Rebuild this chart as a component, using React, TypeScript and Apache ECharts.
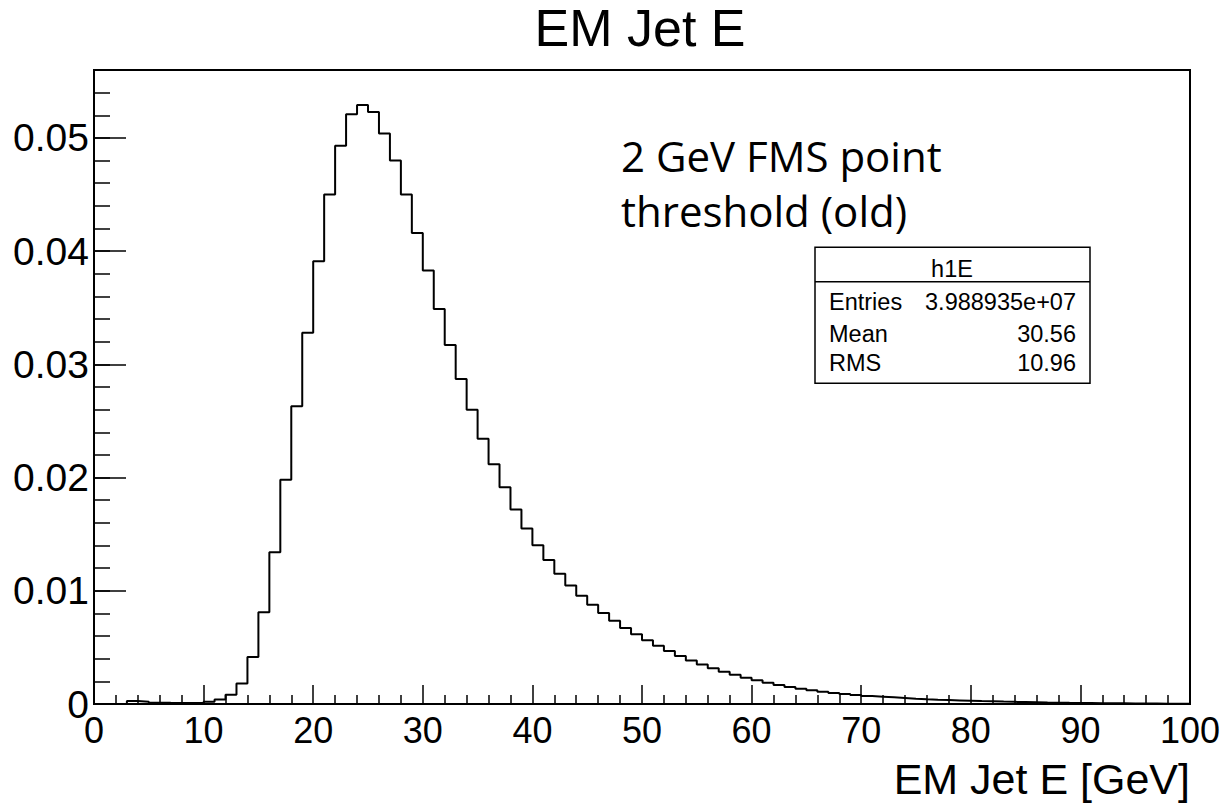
import React, { useEffect, useRef } from "react";
import * as echarts from "echarts";

// Histogram h1E: 100 bins of width 1 GeV from 0 to 100 (normalised contents)
const X_MIN = 0;
const X_MAX = 100;
const BIN_WIDTH = 1;
const Y_MAX = 0.056;

const binContents = [
  0, 0, 0.00002, 0.00026, 0.0002, 0.00012, 0.0001, 0.00009, 0.00009, 0.00012,
  0.0002, 0.0004, 0.00082, 0.0018, 0.00415, 0.0081, 0.0134, 0.0198, 0.0263, 0.0328,
  0.0391, 0.045, 0.0493, 0.0521, 0.0529, 0.0523, 0.0504, 0.048, 0.045, 0.0416,
  0.0383, 0.0349, 0.0317, 0.0287, 0.026, 0.02344, 0.02118, 0.01915, 0.01718, 0.0155,
  0.01403, 0.01271, 0.0115, 0.01047, 0.00956, 0.00876, 0.00803, 0.00735, 0.00671, 0.00615,
  0.00562, 0.00515, 0.00468, 0.00424, 0.00385, 0.0035, 0.00315, 0.00285, 0.00259, 0.00232,
  0.00209, 0.00188, 0.00168, 0.0015, 0.00135, 0.00121, 0.00109, 0.00097, 0.00088, 0.0008,
  0.00071, 0.00065, 0.00059, 0.00053, 0.00047, 0.00042, 0.00038, 0.00035, 0.00032, 0.00029,
  0.00026, 0.00024, 0.00021, 0.00019, 0.00017, 0.00015, 0.00013, 0.00012, 0.0001, 0.00009,
  0.00008, 0.00007, 0.00006, 0.00006, 0.00005, 0.00004, 0.00004, 0.00003, 0.00003, 0.00003,
];

const TITLE = "EM Jet E";
const X_TITLE = "EM Jet E [GeV]";
const NOTE_LINES = ["2 GeV FMS point", "threshold (old)"];
const STATS_NAME = "h1E";
const STATS_LABELS = ["Entries", "Mean", "RMS"];
const STATS_VALUES = ["3.988935e+07", "30.56", "10.96"];

const HELV = '"Liberation Sans", Arial, Helvetica, sans-serif';

export default function App() {
  const ref = useRef<HTMLDivElement>(null);

  useEffect(() => {
    if (!ref.current) return;
    const chart = echarts.init(ref.current, null, { renderer: "svg" });

    const pts: number[][] = binContents.map((v, i) => [X_MIN + i * BIN_WIDTH, v]);
    pts.push([X_MIN + binContents.length * BIN_WIDTH, binContents[binContents.length - 1]]);

    const yFmt = (v: number) => {
      const k = Math.round(v / 0.01);
      if (Math.abs(v - k * 0.01) > 1e-9) return "";
      return k === 0 ? "0" : (k * 0.01).toFixed(2);
    };

    const statsRowY = [301.7, 333.5, 363];
    const statsFont = `23.5px ${HELV}`;
    const statsGraphics: any[] = [
      {
        type: "rect",
        shape: { x: 815, y: 247.3, width: 275, height: 136 },
        style: { fill: "#fff", stroke: "#000", lineWidth: 1.5 },
        z: 100,
      },
      {
        type: "line",
        shape: { x1: 815, y1: 281.7, x2: 1090, y2: 281.7 },
        style: { stroke: "#000", lineWidth: 1.5 },
        z: 101,
      },
      {
        type: "text",
        x: 952,
        y: 268.5,
        z: 101,
        style: { text: STATS_NAME, font: statsFont, align: "center", verticalAlign: "middle", fill: "#000" },
      },
    ];
    STATS_LABELS.forEach((lab, i) => {
      statsGraphics.push({
        type: "text",
        x: 829,
        y: statsRowY[i],
        z: 101,
        style: { text: lab, font: statsFont, align: "left", verticalAlign: "middle", fill: "#000" },
      });
      statsGraphics.push({
        type: "text",
        x: 1076,
        y: statsRowY[i],
        z: 101,
        style: { text: STATS_VALUES[i], font: statsFont, align: "right", verticalAlign: "middle", fill: "#000" },
      });
    });

    chart.setOption({
      animation: false,
      backgroundColor: "#fff",
      grid: {
        left: 94,
        right: 34,
        top: 70,
        bottom: 100,
        show: true,
        borderColor: "#000",
        borderWidth: 2,
        backgroundColor: "transparent",
      },
      xAxis: {
        type: "value",
        min: X_MIN,
        max: X_MAX,
        interval: 10,
        axisLine: { show: true, onZero: false, lineStyle: { color: "#000", width: 2 } },
        axisTick: { show: true, inside: true, length: 19, lineStyle: { color: "#000", width: 1.5 } },
        minorTick: { show: true, splitNumber: 5, length: 9, lineStyle: { color: "#000", width: 1.5 } },
        axisLabel: { color: "#000", fontFamily: "Liberation Sans", fontSize: 36, margin: 8 },
        splitLine: { show: false },
        minorSplitLine: { show: false },
      },
      yAxis: [
        {
          type: "value",
          min: 0,
          max: Y_MAX,
          interval: 0.01,
          position: "left",
          axisLine: { show: true, onZero: false, lineStyle: { color: "#000", width: 2 } },
          axisTick: { show: true, inside: true, length: 32, lineStyle: { color: "#000", width: 1.5 } },
          axisLabel: { color: "#000", fontFamily: "Liberation Sans", fontSize: 39, margin: 5, formatter: yFmt },
          splitLine: { show: false },
        },
        {
          type: "value",
          min: 0,
          max: Y_MAX,
          interval: 0.002,
          position: "left",
          offset: 0,
          axisLine: { show: false },
          axisTick: { show: true, inside: true, length: 16, lineStyle: { color: "#000", width: 1.5 } },
          axisLabel: { show: false },
          splitLine: { show: false },
        },
      ],
      series: [
        {
          type: "line",
          data: pts,
          step: "end",
          yAxisIndex: 0,
          symbol: "none",
          silent: true,
          lineStyle: { color: "#000", width: 2 },
        },
      ],
      graphic: [
        {
          type: "text",
          x: 640,
          y: 28.4,
          z: 100,
          style: { text: TITLE, font: `52px ${HELV}`, align: "center", verticalAlign: "middle", fill: "#000" },
        },
        {
          type: "text",
          x: 621,
          y: 155.4,
          z: 100,
          style: { text: NOTE_LINES[0], font: '42px "Open Sans", sans-serif', align: "left", verticalAlign: "middle", fill: "#000" },
        },
        {
          type: "text",
          x: 621,
          y: 210.4,
          z: 100,
          style: { text: NOTE_LINES[1], font: '42px "Open Sans", sans-serif', align: "left", verticalAlign: "middle", fill: "#000" },
        },
        {
          type: "text",
          x: 1190,
          y: 778.8,
          z: 100,
          style: { text: X_TITLE, font: `43px ${HELV}`, align: "right", verticalAlign: "middle", fill: "#000" },
        },
        ...statsGraphics,
      ],
    });

    return () => chart.dispose();
  }, []);

  return (
    <div
      ref={ref}
      style={{ position: "absolute", left: 0, top: 0, width: 1224, height: 804 }}
    />
  );
}
